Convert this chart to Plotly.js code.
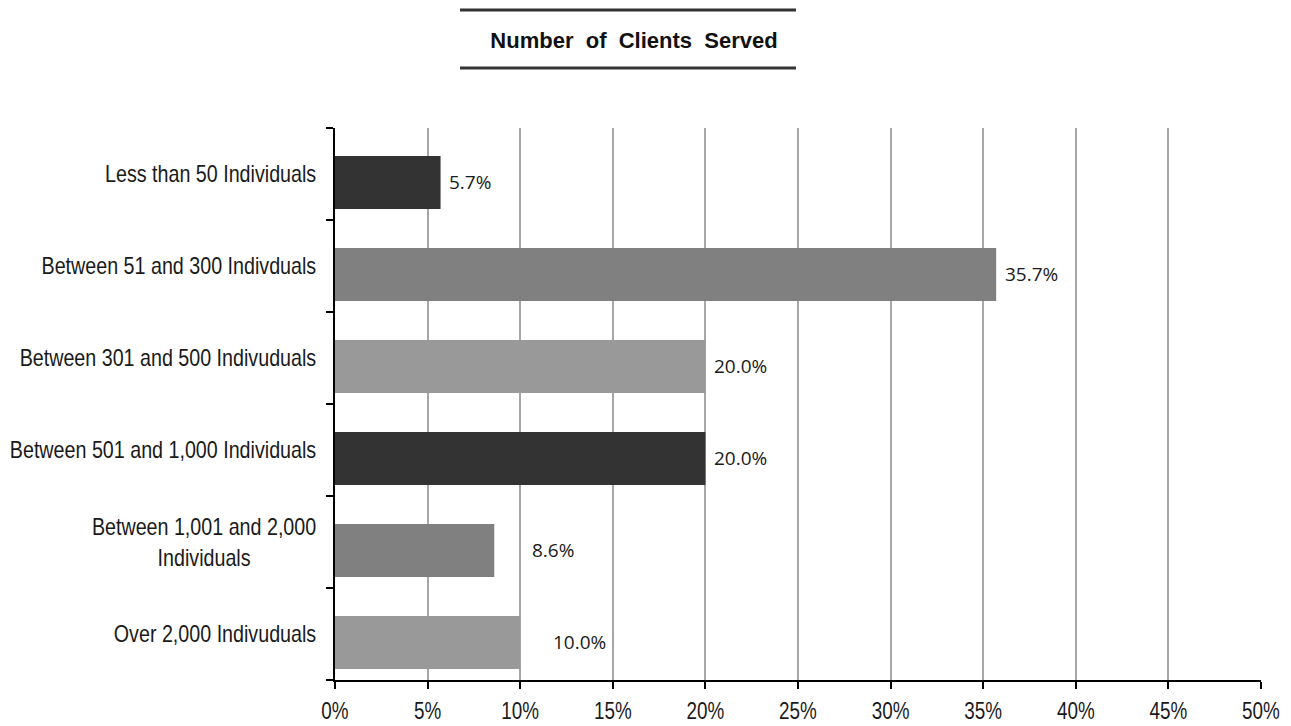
<!DOCTYPE html>
<html>
<head>
<meta charset="utf-8">
<script src="https://cdn.plot.ly/plotly-3.0.1.min.js"></script>
<style>html,body{margin:0;padding:0;background:#fff;}#chart{width:1291px;height:726px;}</style>
</head>
<body>
<div id="chart"></div>
<script>
// Data
const categories = [
  "Less than 50 Individuals",
  "Between 51 and 300 Indivduals",
  "Between 301 and 500 Indivuduals",
  "Between 501 and 1,000 Individuals",
  "Between 1,001 and 2,000 Individuals",
  "Over 2,000 Indivuduals"
];
const tickLabels = [
  "Less than 50 Individuals",
  "Between 51 and 300 Indivduals",
  "Between 301 and 500 Indivuduals",
  "Between 501 and 1,000 Individuals",
  "Between 1,001 and 2,000<br>Individuals" + "\u00a0".repeat(12),
  "Over 2,000 Indivuduals"
];
const values = [5.7, 35.7, 20.0, 20.0, 8.6, 10.0];
const valueLabels = ["5.7%", "35.7%", "20.0%", "20.0%", "8.6%", "10.0%"];
const xTicks = [0, 5, 10, 15, 20, 25, 30, 35, 40, 45, 50];

// Styles
const barColors = ["#333333", "#808080", "#999999", "#333333", "#808080", "#999999"];
const labelShift = [6, 7, 7, 7, 36, 31];
const axisFont = "'Liberation Sans', Arial, sans-serif";
const NARROW = 0.82; // horizontal condensing to mimic a narrow face

const trace = {
  type: "bar",
  orientation: "h",
  y: categories,
  x: values,
  marker: { color: barColors, line: { width: 0 } },
  width: 0.576,
  offset: -0.196,
  hoverinfo: "skip"
};

const annotations = values.map((v, i) => ({
  x: v, y: categories[i], xref: "x", yref: "y",
  text: valueLabels[i], showarrow: false,
  xanchor: "left", yanchor: "middle",
  xshift: labelShift[i], yshift: -8,
  font: { family: "'Open Sans', sans-serif", size: 19, color: "#1a1a1a" }
}));

const layout = {
  width: 1291, height: 726,
  margin: { l: 335, r: 30, t: 128, b: 46 },
  paper_bgcolor: "#ffffff", plot_bgcolor: "#ffffff",
  showlegend: false,
  title: {
    text: "<b>Number\u00a0 of\u00a0 Clients\u00a0 Served</b>",
    font: { family: axisFont, size: 22, color: "#111111" },
    xref: "container", yref: "container",
    x: 634 / 1291, xanchor: "center",
    y: 1 - 40 / 726, yanchor: "middle"
  },
  xaxis: {
    range: [0, 50], autorange: false,
    tickvals: xTicks, ticktext: xTicks.map(t => t + "%"),
    showgrid: true, gridcolor: "#a6a6a6", gridwidth: 2,
    zeroline: false,
    showline: true, linecolor: "#000000", linewidth: 2,
    ticks: "outside", ticklen: 7, tickwidth: 2, tickcolor: "#000000",
    ticklabelstandoff: 2,
    tickfont: { family: axisFont, size: 23, color: "#1a1a1a" },
    fixedrange: true
  },
  yaxis: {
    type: "category",
    categoryorder: "array", categoryarray: categories,
    autorange: "reversed",
    tickmode: "array", tickvals: categories, ticktext: tickLabels,
    tickson: "boundaries",
    showgrid: false, zeroline: false,
    showline: true, linecolor: "#000000", linewidth: 2,
    ticks: "outside", ticklen: 7, tickwidth: 2, tickcolor: "#000000",
    ticklabelstandoff: 12,
    tickfont: { family: axisFont, size: 24, color: "#1a1a1a" },
    fixedrange: true
  },
  annotations: annotations,
  shapes: [
    { type: "line", xref: "paper", yref: "paper", x0: (460 - 335) / 926, x1: (796 - 335) / 926,
      y0: (680 - 10) / 552, y1: (680 - 10) / 552, line: { color: "#333333", width: 3 } },
    { type: "line", xref: "paper", yref: "paper", x0: (460 - 335) / 926, x1: (796 - 335) / 926,
      y0: (680 - 68) / 552, y1: (680 - 68) / 552, line: { color: "#333333", width: 3 } }
  ]
};

function condense() {
  document.querySelectorAll("#chart .xtick text, #chart .ytick text").forEach(el => {
    const lines = el.querySelectorAll("tspan.line");
    const targets = lines.length ? Array.from(lines) : [el];
    targets.forEach(t => {
      const len = t.getComputedTextLength();
      if (len > 0) {
        t.setAttribute("textLength", (len * NARROW).toFixed(2));
        t.setAttribute("lengthAdjust", "spacingAndGlyphs");
      }
    });
  });
}

Plotly.newPlot("chart", [trace], layout, { displayModeBar: false, staticPlot: true }).then(condense);
</script>
</body>
</html>
